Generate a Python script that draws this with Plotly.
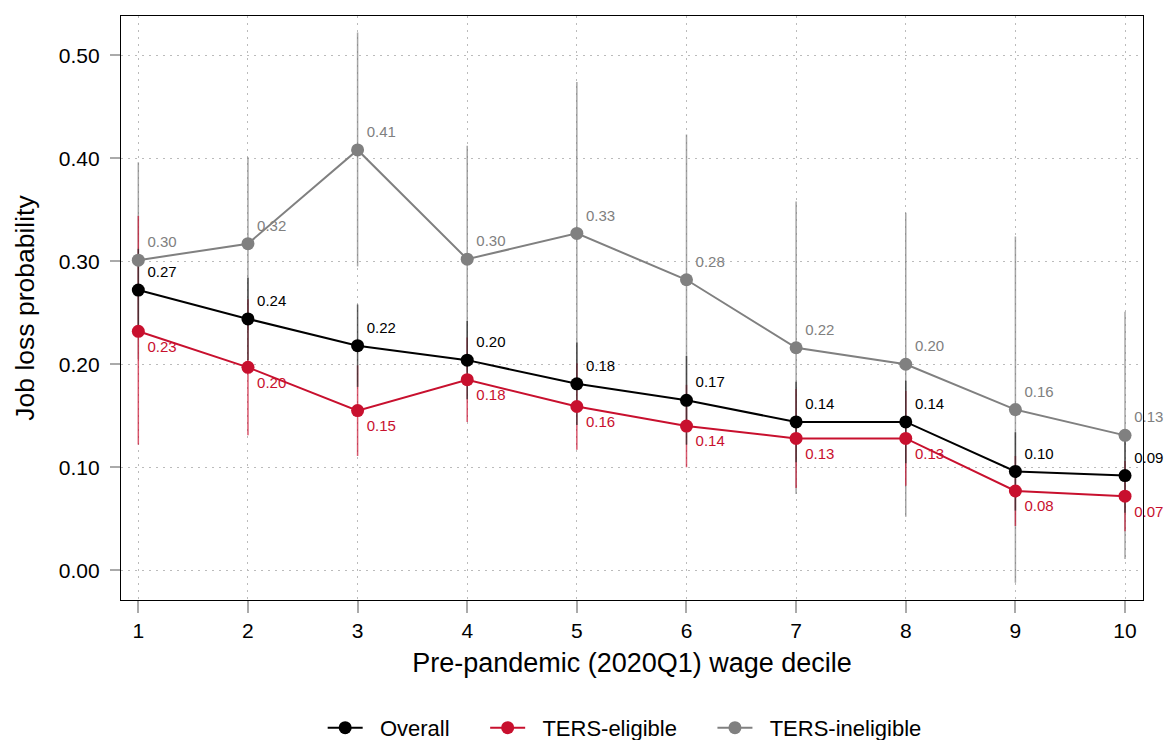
import plotly.graph_objects as go

deciles = [1, 2, 3, 4, 5, 6, 7, 8, 9, 10]

overall = [0.272, 0.244, 0.218, 0.204, 0.181, 0.165, 0.144, 0.144, 0.096, 0.092]
overall_lo = [0.232, 0.204, 0.178, 0.166, 0.141, 0.122, 0.105, 0.104, 0.058, 0.056]
overall_hi = [0.312, 0.284, 0.258, 0.242, 0.221, 0.208, 0.183, 0.184, 0.134, 0.128]

eligible = [0.232, 0.197, 0.155, 0.185, 0.159, 0.140, 0.128, 0.128, 0.077, 0.072]
eligible_lo = [0.122, 0.131, 0.111, 0.144, 0.117, 0.100, 0.080, 0.082, 0.043, 0.038]
eligible_hi = [0.344, 0.263, 0.199, 0.226, 0.201, 0.180, 0.176, 0.174, 0.111, 0.106]

ineligible = [0.301, 0.317, 0.408, 0.302, 0.327, 0.282, 0.216, 0.200, 0.156, 0.131]
ineligible_lo = [0.205, 0.233, 0.295, 0.192, 0.180, 0.141, 0.074, 0.052, -0.012, 0.011]
ineligible_hi = [0.396, 0.401, 0.522, 0.412, 0.474, 0.423, 0.358, 0.347, 0.324, 0.251]

BLACK = "#000000"
RED = "#C8102E"
GRAY = "#808080"
FONT = "Liberation Sans, Arial, Helvetica, sans-serif"
NB = "\u00a0"

series = [
    ("TERS-ineligible", ineligible, ineligible_lo, ineligible_hi, GRAY, "rgba(128,128,128,0.7)", "top right"),
    ("TERS-eligible", eligible, eligible_lo, eligible_hi, RED, "rgba(200,16,46,0.7)", "bottom right"),
    ("Overall", overall, overall_lo, overall_hi, BLACK, "rgba(40,40,40,0.75)", "top right"),
]

fig = go.Figure()

# confidence intervals first (behind lines)
for name, y, lo, hi, col, ecol, tp in series:
    fig.add_trace(go.Scatter(
        x=deciles, y=y, mode="markers", marker=dict(size=1, opacity=0),
        showlegend=False, hoverinfo="skip",
        error_y=dict(type="data", symmetric=False,
                     array=[h - v for h, v in zip(hi, y)],
                     arrayminus=[v - l for l, v in zip(lo, y)],
                     color=ecol, thickness=1.5, width=0),
    ))

for name, y, lo, hi, col, ecol, tp in series:
    fig.add_trace(go.Scatter(
        x=deciles, y=y, mode="lines+markers+text", name=NB * 2 + name + NB * 5,
        line=dict(color=col, width=2),
        marker=dict(color=col, size=13),
        text=[f"{v:.2f}" for v in y], textposition=tp,
        textfont=dict(color=col, size=15, family=FONT),
        cliponaxis=False,
    ))

fig.update_layout(
    width=1164, height=740,
    margin=dict(l=121, r=21, t=16, b=140, autoexpand=False),
    plot_bgcolor="white", paper_bgcolor="white",
    font=dict(family=FONT, size=21, color="black"),
    legend=dict(orientation="h", x=0.508, xanchor="center", y=-0.219, yanchor="middle",
                traceorder="reversed", font=dict(size=22, family=FONT), itemwidth=35),
    showlegend=True,
)
fig.update_xaxes(
    range=[0.842, 10.164], tickvals=deciles, ticks="outside", ticklen=12, tickcolor="#aaaaaa",
    tickwidth=1.5,
    showgrid=True, gridcolor="#bbbbbb", griddash="2px,5px", gridwidth=1.2,
    showline=True, linecolor="black", linewidth=1.3, mirror=True, zeroline=False,
    title=dict(text="Pre-pandemic (2020Q1) wage decile", font=dict(size=27), standoff=11),
    tickfont=dict(size=21), ticklabelstandoff=0,
)
fig.update_yaxes(
    range=[-0.0288, 0.538], tickvals=[0, 0.1, 0.2, 0.3, 0.4, 0.5], tickformat=".2f",
    ticks="outside", ticklen=10, tickcolor="#aaaaaa", tickwidth=1.5,
    showgrid=True, gridcolor="#bbbbbb", griddash="2px,5px", gridwidth=1.2,
    showline=True, linecolor="black", linewidth=1.3, mirror=True, zeroline=False,
    title=dict(text="Job loss probability", font=dict(size=26.5), standoff=16),
    tickfont=dict(size=21), ticklabelstandoff=6,
)

fig.write_html("out.html", config={"displayModeBar": False},
               post_script="document.body.style.margin='0';document.body.style.overflow='hidden';")
